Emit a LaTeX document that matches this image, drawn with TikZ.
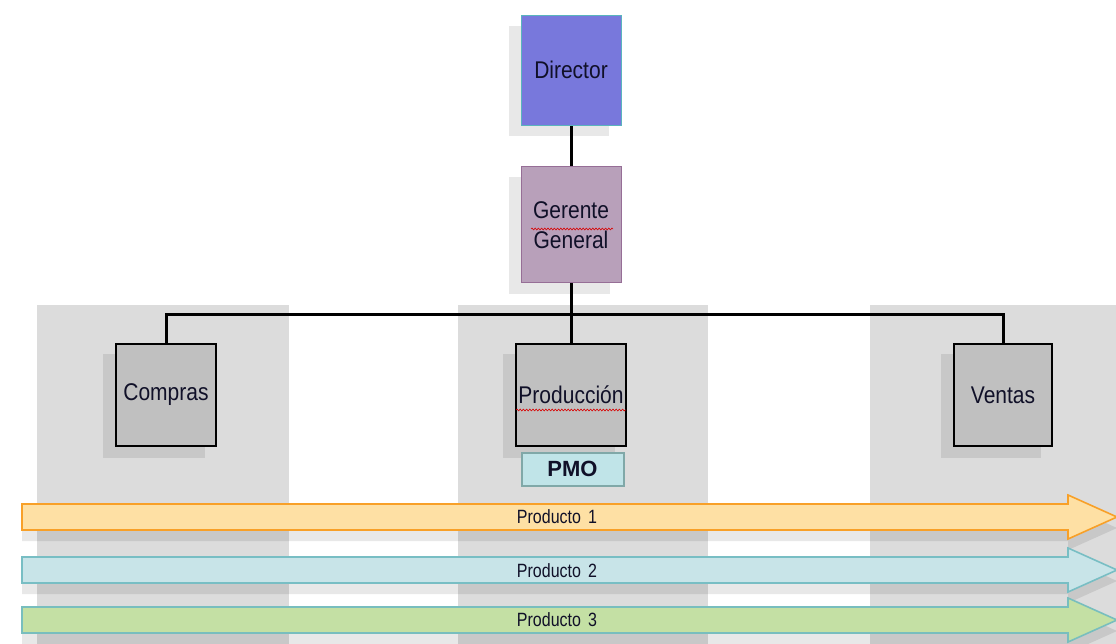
\documentclass[tikz,border=0pt]{standalone}
\usepackage{fontspec}
\setmainfont{Liberation Sans}
\usetikzlibrary{backgrounds,decorations.pathmorphing}

\definecolor{colgray}{RGB}{220,220,220}
\definecolor{boxgray}{RGB}{192,192,192}
\definecolor{dirfill}{RGB}{120,120,220}
\definecolor{dirline}{RGB}{90,180,190}
\definecolor{gerfill}{RGB}{184,160,186}
\definecolor{gerline}{RGB}{150,110,150}
\definecolor{pmofill}{RGB}{192,228,232}
\definecolor{pmoline}{RGB}{128,168,168}
\definecolor{txt}{RGB}{16,16,40}
\definecolor{orfill}{RGB}{254,224,164}
\definecolor{orline}{RGB}{248,160,40}
\definecolor{blfill}{RGB}{200,228,232}
\definecolor{blline}{RGB}{120,190,196}
\definecolor{grfill}{RGB}{196,224,164}
\definecolor{grline}{RGB}{120,190,190}

% slightly tall lettering, as in the chart's labels
\newcommand{\tall}[1]{\scalebox{1}[1.15]{#1}}
\newcommand{\arrowpath}[1]{%
  (22,#1-13) -- (1068,#1-13) -- (1068,#1-22) -- (1117,#1) --
  (1068,#1+22) -- (1068,#1+13) -- (22,#1+13) -- cycle}

\begin{document}
\begin{tikzpicture}[x=1pt,y=-1pt,
  unit/.style={draw=black, line width=1.3pt, fill=boxgray, inner sep=0pt,
    minimum height=102pt, text=txt, font=\fontsize{21}{25}\selectfont},
  head/.style={inner sep=0pt, text=txt, align=center,
    font=\fontsize{21}{30}\selectfont},
  shade/.style={fill=black, fill opacity=0.09, draw=none},
  link/.style={draw=black, line width=3pt},
  flow/.style={line width=1.6pt, line join=miter},
  flowlabel/.style={text=txt, inner sep=0pt,
    font=\fontsize{16}{18}\selectfont},
  spell/.style={draw=red!85!black, line width=0.6pt, decorate,
    decoration={snake, amplitude=0.9pt, segment length=3.2pt}}]

\useasboundingbox (0,0) rectangle (1116,644);

% organisation chart boxes
\node[head, draw=dirline, line width=0.8pt, fill=dirfill,
  minimum width=100pt, minimum height=110pt] (dir) at (571,70) {\tall{Director}};
\node[head, draw=gerline, line width=1pt, fill=gerfill,
  minimum width=100pt, minimum height=116pt] (ger) at (571,225)
  {\tall{Gerente}\\\tall{General}};
\node[unit, minimum width=100pt] (com) at (166,395) {\tall{Compras}};
\node[unit, minimum width=110pt] (pro) at (571,395) {\tall{Producción}};
\node[unit, minimum width=98pt] (ven) at (1003,395) {\tall{Ventas}};
\node[draw=pmoline, line width=2pt, fill=pmofill, inner sep=0pt,
  minimum width=102pt, minimum height=33pt, text=txt,
  font=\fontsize{22}{24}\selectfont\bfseries] (pmo) at (572.5,469) {PMO};

\coordinate (bus) at (571,314);

\begin{scope}[on background layer]
  % department columns
  \fill[colgray] (37,305) rectangle (289,644);
  \fill[colgray] (458,305) rectangle (708,644);
  \fill[colgray] (870,305) rectangle (1116,644);
  % drop shadows of the boxes
  \foreach \n in {dir,ger,com,pro,ven}
    \fill[shade] ([shift={(-12,11)}]\n.south west) rectangle ([shift={(-12,11)}]\n.north east);
  % drop shadows of the product arrows
  \foreach \yy in {528,581,631}
    \fill[shade] \arrowpath{\yy};
  % connectors
  \draw[link] (dir.south) -- (ger.north);
  \draw[link] (ger.south) -- (pro.north);
  \draw[link] (com.north) |- (bus) -| (ven.north);
\end{scope}

% product arrows
\draw[flow, draw=orline, fill=orfill] \arrowpath{517};
\draw[flow, draw=blline, fill=blfill] \arrowpath{570};
\draw[flow, draw=grline, fill=grfill] \arrowpath{620};
\node[flowlabel] (p1) at (557,517) {\scalebox{1}[1.2]{Producto\, 1}};
\node[flowlabel] (p2) at (557,571) {\scalebox{1}[1.2]{Producto\, 2}};
\node[flowlabel] (p3) at (557,620) {\scalebox{1}[1.2]{Producto\, 3}};

% spelling marks
\draw[spell] (531,229) -- (613,229);
\draw[spell] (516,410) -- (626,410);
\end{tikzpicture}
\end{document}
